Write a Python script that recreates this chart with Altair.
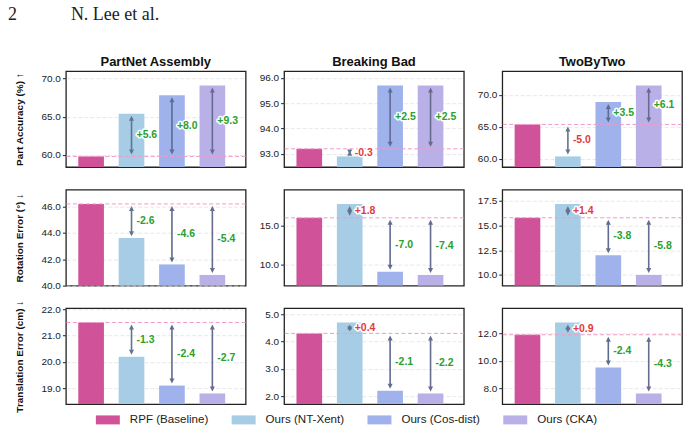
import altair as alt
import pandas as pd

# Methods compared in every panel, first one is the baseline
methods = ["RPF (Baseline)", "Ours (NT-Xent)", "Ours (Cos-dist)", "Ours (CKA)"]
method_colors = ["#d0539a", "#a7cde6", "#a0b2ec", "#bab0e8"]
arrow_colors = ["#60758f", "#5e6c91", "#676b90"]

datasets = ["PartNet Assembly", "Breaking Bad", "TwoByTwo"]
metric_titles = ["Part Accuracy (%) ↑", "Rotation Error (°) ↓", "Translation Error (cm) ↓"]
higher_is_better = [True, False, False]

# Values per dataset, in the order of `methods`
part_accuracy = {
    "PartNet Assembly": [59.8, 65.4, 67.8, 69.1],
    "Breaking Bad": [93.2, 92.9, 95.7, 95.7],
    "TwoByTwo": [65.4, 60.4, 68.9, 71.5],
}
rotation_error = {
    "PartNet Assembly": [46.2, 43.6, 41.6, 40.8],
    "Breaking Bad": [16.0, 17.8, 9.0, 8.6],
    "TwoByTwo": [15.8, 17.2, 12.0, 10.0],
}
translation_error = {
    "PartNet Assembly": [21.5, 20.2, 19.1, 18.8],
    "Breaking Bad": [4.3, 4.7, 2.2, 2.1],
    "TwoByTwo": [11.9, 12.8, 9.5, 7.6],
}

# Y tick labels per metric row, one list per dataset
accuracy_ticks = [[60, 65, 70], [93, 94, 95, 96], [60, 65, 70]]
rotation_ticks = [[40, 42, 44, 46], [10, 15], [10, 12.5, 15, 17.5]]
translation_ticks = [[19, 20, 21, 22], [2, 3, 4, 5], [8, 10, 12]]

metric_values = [part_accuracy, rotation_error, translation_error]
metric_ticks = [accuracy_ticks, rotation_ticks, translation_ticks]

GOOD = "#2ca02c"
BAD = "#e33b3b"
BASELINE_LINE = "#f29ac6"
FONT = "Liberation Sans"

legend = alt.Legend(
    title=None,
    orient="none",
    legendX=30,
    legendY=337,
    direction="horizontal",
    columns=4,
    gridAlign="all",
    columnPadding=23,
    symbolType="M-1,-0.375H1V0.375H-1Z",
    symbolSize=576,
    symbolStrokeWidth=0,
    symbolOpacity=1,
    labelFont=FONT,
    labelFontSize=11.6,
    labelColor="#222",
    labelOffset=10,
)


def panel(values, ticks, dataset, ytitle, better_up, top_row):
    base = values[0]
    vmin, vmax = min(values), max(values)
    span = vmax - vmin
    lo, hi = vmin - 0.15 * span, vmax + 0.2 * span
    rows = []
    for i, (m, v) in enumerate(zip(methods, values)):
        d = v - base
        good = d > 0 if better_up else d < 0
        rows.append(dict(
            i=i, method=m, value=v, floor=lo, base=base,
            upper=max(v, base), lower=min(v, base), mid=(v + base) / 2,
            label=f"{d:+.1f}", tone=GOOD if good else BAD,
            arrow=arrow_colors[i - 1] if i > 0 else arrow_colors[0],
        ))
    df = pd.DataFrame(rows)

    x = alt.X("i:Q", scale=alt.Scale(domain=[-0.5, 3.7], nice=False, zero=False), axis=None)
    yscale = alt.Scale(domain=[lo, hi], nice=False, zero=False)
    axis_args = dict(values=ticks, tickCount=10, format=".1f", grid=True, gridDash=[4, 2],
                     gridColor="#e2e2e2", gridWidth=0.8, domain=False, labelOverlap=False)
    if ytitle:
        yaxis = alt.Axis(title=ytitle, **axis_args)
    else:
        yaxis = alt.Axis(title=None, **axis_args)

    root = alt.Chart(df)
    bars = root.mark_bar(size=25.7).encode(
        x=x,
        y=alt.Y("value:Q", scale=yscale, axis=yaxis),
        y2="floor:Q",
        color=alt.Color("method:N", scale=alt.Scale(domain=methods, range=method_colors), legend=legend),
    )
    ref = root.transform_filter("datum.i == 0").mark_rule(
        color=BASELINE_LINE, strokeDash=[4, 2.5], strokeWidth=1
    ).encode(y="base:Q")

    gaps = root.transform_filter("datum.i > 0")
    shaft = gaps.mark_rule(strokeWidth=1.6, yOffset=4.5, y2Offset=-4.5).encode(
        x=x, y="upper:Q", y2="lower:Q", color=alt.Color("arrow:N", scale=None)
    )
    head_up = gaps.mark_point(shape="M0,-1L1,1L-1,1Z", size=25, filled=True, opacity=1,
                              yOffset=4.5).encode(
        x=x, y="upper:Q", color=alt.Color("arrow:N", scale=None)
    )
    head_down = gaps.mark_point(shape="M0,1L1,-1L-1,-1Z", size=25, filled=True, opacity=1,
                                yOffset=-4.5).encode(
        x=x, y="lower:Q", color=alt.Color("arrow:N", scale=None)
    )
    text_style = dict(align="left", baseline="middle", dx=5, font=FONT,
                      fontSize=10.5, fontWeight="bold")
    halo = gaps.mark_text(fill="white", stroke="white", strokeWidth=3,
                          strokeJoin="round", **text_style).encode(
        x=x, y="mid:Q", text="label:N"
    )
    labels = gaps.mark_text(**text_style).encode(
        x=x, y="mid:Q", text="label:N", color=alt.Color("tone:N", scale=None)
    )

    props = dict(width=180, height=96)
    if top_row:
        props["title"] = alt.TitleParams(dataset, font=FONT, fontSize=13, fontWeight="bold",
                                         color="#111", offset=6, dy=14, baseline="alphabetic")
    return alt.layer(bars, ref, shaft, head_up, head_down, halo, labels).properties(**props)


panels = []
for r, (mvals, mticks) in enumerate(zip(metric_values, metric_ticks)):
    for c, ds in enumerate(datasets):
        panels.append(panel(
            mvals[ds], mticks[c], ds,
            metric_titles[r] if c == 0 else None,
            higher_is_better[r], r == 0,
        ))

header = "2" + "\u00a0" * 12 + "N. Lee et al."

chart = alt.concat(
    *panels, columns=3, spacing={"row": 22.7, "column": 38.5}, bounds="flush"
).resolve_scale(
    y="independent", x="independent"
).properties(
    title=alt.TitleParams(header, anchor="start", frame="group", font="Liberation Serif",
                          fontSize=18, fontWeight="normal", color="#222", dx=-58,
                          offset=18, baseline="alphabetic"),
    padding={"left": 8, "top": 5, "right": 5, "bottom": 0},
).configure_view(
    stroke="#222", strokeWidth=1.3
).configure_axis(
    labelFont=FONT, labelFontSize=10, labelColor="#222", labelPadding=2,
    tickColor="#222", tickSize=3.5, tickWidth=1,
    titleFont=FONT, titleFontSize=10, titleFontWeight="bold", titleColor="#111",
    titlePadding=16.5,
)

chart.save("out.html", embed_options={"renderer": "svg", "actions": False})
